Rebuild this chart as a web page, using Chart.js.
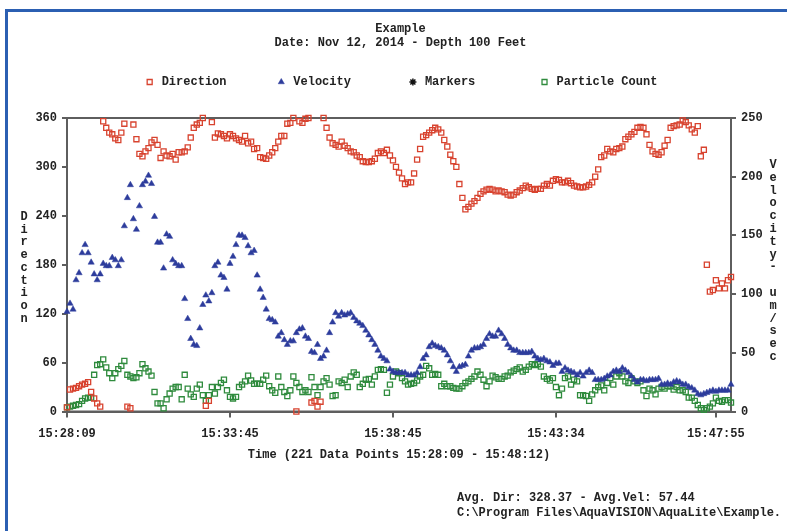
<!DOCTYPE html>
<html>
<head>
<meta charset="utf-8">
<title>Example - AquaLite</title>
<script src="https://cdn.jsdelivr.net/npm/chart.js@4.4.1/dist/chart.umd.min.js"></script>
<style>
  html, body { margin: 0; padding: 0; background: #fff; overflow: hidden; }
  #wrap { position: relative; width: 787px; height: 531px; }
  #frame { position: absolute; left: 5px; top: 9px; width: 800px; height: 540px;
           border-left: 3px solid #2b5fb2; border-top: 3px solid #2b5fb2; }
  canvas { position: absolute; left: 0; top: 0; }
  .note { position: absolute; left: 457px; font: bold 12px "Liberation Mono", monospace;
          color: #222; white-space: nowrap; }
</style>
</head>
<body>
<div id="wrap">
  <div id="frame"></div>
  <canvas id="myChart" width="787" height="531"></canvas>
  <div class="note" style="top:491px">Avg. Dir: 328.37 - Avg.Vel: 57.44</div>
  <div class="note" style="top:506px">C:\Program Files\AquaVISION\AquaLite\Example.</div>
</div>
<script>
// tick positions (sample index) and the time shown under each
const tickIdx = [0, 54, 108, 162, 215];
const tickLabels = ['15:28:09', '15:33:45', '15:38:45', '15:43:34', '15:47:55'];

// direction in degrees, one value per sample (221 samples)
const direction = [
  5, 27, 28, 29, 31, 33, 34, 36, 24, 16, 10, 6,
  356, 348, 342, 340, 335, 333, 342, 353, 6, 4, 352, 334, 316, 313, 319, 323, 330, 333,
  327, 311, 319, 314, 313, 316, 309, 318, 318, 319, 324, 336, 348, 352, 354, 360, 7, 13,
  355, 336, 341, 340, 338,
  335, 340, 338, 335, 333, 331, 338, 329, 331, 322, 323, 312, 311, 310, 314, 318, 323, 331,
  338, 338, 353, 354, 360, 0, 356, 354, 359, 360, 11, 13, 6, 12, 360, 348, 336, 329, 327,
  325, 331, 326, 323, 319, 318, 314, 312, 307, 306, 306, 307, 310, 317, 319, 317, 321, 314,
  308, 300, 293,
  286, 279, 281, 281, 292, 309, 322, 337, 339, 342, 345, 348, 346, 342, 333, 325, 315, 307,
  300, 279, 262, 248, 251, 255, 258, 262, 267, 270, 272, 273, 272, 270, 271, 270, 269, 266,
  265, 266, 269, 271, 274, 277, 275, 273, 272, 273, 273, 277, 279, 277, 283, 285, 284, 281,
  281, 283, 280, 277, 276, 275, 275, 276, 278, 281, 288, 297, 312, 314, 322, 319, 318, 322,
  323, 325, 334, 337, 340, 343, 348, 349, 348, 340, 327, 319, 316, 315, 318, 326, 333, 348,
  350, 351, 352, 357, 355, 351, 346, 342, 350, 313, 321, 180, 147, 149, 161, 151, 157, 151,
  161, 165
];

// velocity in um/sec
const velocity = [
  85, 92, 87, 112, 118, 135, 142, 135, 127, 117, 112, 117, 126, 124, 124, 131, 129, 124,
  129, 158, 182, 193, 164, 155, 175, 193, 196, 201, 194, 166, 144, 144, 122, 151, 149, 129,
  126, 124, 124, 96, 79, 62, 57, 56, 71, 91, 99, 94, 101, 124, 127, 116, 114, 104, 126, 132,
  142, 150, 150, 148, 141, 135, 137, 116, 104, 97, 87, 79, 78, 76, 64, 67, 61, 57, 60, 60,
  67, 70, 71, 64, 62, 51, 50, 57, 45, 47, 52, 67, 76, 84, 81, 84, 82, 83, 84, 80, 77, 75,
  73, 69, 65, 61, 57, 52, 47, 45, 43, 36, 34, 33, 33,
  33, 33, 31, 31, 31, 33, 38, 45, 48, 55, 58, 56, 55, 54, 52, 48, 43, 38, 34, 38, 39, 40,
  47, 52, 54, 54, 55, 57, 62, 66, 64, 64, 69, 66, 62, 57, 54, 52, 52, 50, 50, 50, 50, 51,
  47, 45, 44, 45, 43, 42, 39, 41, 41, 34,
  37, 35, 34, 33, 31, 33, 30, 33, 35, 33, 27, 27, 27, 28, 30, 31, 34, 35, 34, 37, 35, 33,
  30, 27, 25, 27, 27, 26, 27, 27, 27, 28, 23, 23, 24, 23, 25, 26, 25, 23, 23, 21, 20, 18,
  15, 14, 15, 16, 17, 18, 17, 18, 18, 18, 18, 23
];

// particle count
const particles = [
  5, 6, 7, 8, 9, 13, 16, 17, 17, 45, 57, 58, 64, 54, 47, 41, 47, 52, 56, 62, 45, 43, 41, 42,
  47, 58, 53, 49, 44, 24, 10, 10, 4, 15, 22, 28, 30, 30, 15, 45, 28, 21, 18, 28, 33, 20, 13,
  20, 30, 22, 30, 35, 39, 26, 18, 16,
  18, 30, 33, 37, 44, 38, 34, 34, 34, 39, 44, 31, 26, 23, 43, 30, 24, 19, 26, 43, 35, 30,
  24, 26, 24, 42, 30, 20, 30, 37, 41, 33, 19, 20, 37, 35, 39, 30, 43, 48, 45, 30, 34, 39,
  40, 33, 43, 51, 52, 51, 23, 33, 43, 49, 47,
  41, 37, 33, 34, 35, 38, 43, 45, 56, 53, 45, 46, 45, 31, 34, 31, 31, 29, 28, 28, 31, 35,
  37, 40, 43, 49, 45, 39, 31, 37, 44, 42, 40, 40, 43, 44, 48, 50, 52, 54, 49, 51, 55, 58,
  57, 58, 55, 43, 40, 38, 41, 30, 20, 28,
  41, 43, 33, 39, 37, 20, 20, 19, 13, 21, 26, 30, 32, 26, 35, 41, 33, 43, 47, 43, 37, 35,
  41, 37, 35, 37, 26, 19, 28, 26, 21, 28, 30, 28, 31, 31, 27, 30, 26, 26, 24, 17, 17, 13,
  8, 4, 2, 4, 6, 10, 17, 13, 12, 14, 14, 11
];

const toPoints = arr => arr.map((v, i) => ({ x: i, y: v }));

Chart.defaults.font.family = '"Liberation Mono", monospace';
Chart.defaults.font.size = 12;
Chart.defaults.font.weight = 'bold';
Chart.defaults.color = '#222';

// plot frame + stacked letter axis titles
const framePlugin = {
  id: 'frame',
  beforeDatasetsDraw(chart) {
    const { ctx, chartArea: a } = chart;
    ctx.save();
    ctx.strokeStyle = '#5e5e5e';
    ctx.lineWidth = 2;
    ctx.strokeRect(a.left, a.top, a.right - a.left, a.bottom - a.top);
    ctx.restore();
  },
  afterDraw(chart) {
    const ctx = chart.ctx;
    ctx.save();
    ctx.font = 'bold 12px "Liberation Mono", monospace';
    ctx.fillStyle = '#222';
    ctx.textAlign = 'center';
    ctx.textBaseline = 'middle';
    'Direction'.split('').forEach((c, i) => ctx.fillText(c, 24, 217 + i * 12.7));
    'Velocity- um/sec'.split('').forEach((c, i) => ctx.fillText(c, 773, 165 + i * 12.8));
    ctx.restore();
  }
};

const ctx = document.getElementById('myChart').getContext('2d');
new Chart(ctx, {
  type: 'scatter',
  data: {
    datasets: [
      {
        label: 'Direction',
        data: toPoints(direction),
        yAxisID: 'y',
        pointStyle: 'rect',
        pointRadius: 3.6,
        borderColor: '#d8432f',
        backgroundColor: 'rgba(255,255,255,0)',
        borderWidth: 1.3,
        clip: false
      },
      {
        label: 'Velocity',
        data: toPoints(velocity),
        yAxisID: 'y2',
        pointStyle: 'triangle',
        pointRadius: 3.6,
        borderColor: '#2d3c9c',
        backgroundColor: '#2d3c9c',
        borderWidth: 0.5,
        clip: false
      },
      {
        label: 'Markers',
        data: [],
        yAxisID: 'y',
        pointStyle: 'star',
        pointRadius: 3.6,
        borderColor: '#111',
        backgroundColor: '#111',
        borderWidth: 1.5
      },
      {
        label: 'Particle Count',
        data: toPoints(particles),
        yAxisID: 'y',
        pointStyle: 'rect',
        pointRadius: 3.6,
        borderColor: '#2f8b3d',
        backgroundColor: 'rgba(255,255,255,0)',
        borderWidth: 1.3,
        clip: false
      }
    ]
  },
  options: {
    responsive: false,
    animation: false,
    layout: { padding: { left: 14 } },
    plugins: {
      title: {
        display: true,
        text: ['Example', 'Date: Nov 12, 2014 - Depth 100 Feet'],
        font: { size: 12, weight: 'bold', lineHeight: 14 / 12 },
        color: '#222',
        padding: { top: 21.5, bottom: 6.5 }
      },
      legend: {
        position: 'top',
        labels: {
          usePointStyle: true,
          boxWidth: 12,
          boxHeight: 5,
          padding: 20,
          color: '#222',
          font: { size: 12, weight: 'bold' },
          generateLabels(chart) {
            const items = Chart.defaults.plugins.legend.labels.generateLabels(chart);
            items.forEach((it, i) => { if (i < 3) it.text = it.text.padEnd(13); });
            return items;
          }
        }
      },
      tooltip: { enabled: false }
    },
    scales: {
      x: {
        type: 'linear',
        min: 0,
        max: 220,
        afterFit(scale) { scale.height = 119.5; },
        afterBuildTicks(scale) { scale.ticks = tickIdx.map(v => ({ value: v })); },
        ticks: {
          padding: 9,
          maxRotation: 0,
          autoSkip: false,
          callback: v => tickLabels[tickIdx.indexOf(v)]
        },
        grid: { drawOnChartArea: false, tickLength: 6, color: '#5e5e5e', lineWidth: 2 },
        border: { color: '#5e5e5e', width: 2 },
        title: {
          display: true,
          text: 'Time (221 Data Points 15:28:09 - 15:48:12)',
          color: '#222',
          font: { size: 12, weight: 'bold' },
          padding: { top: 0, bottom: 69 }
        }
      },
      // empty top band: gap between legend and plot
      xTop: {
        type: 'linear',
        position: 'top',
        min: 0,
        max: 220,
        afterFit(scale) { scale.height = 20; },
        ticks: { display: false },
        grid: { display: false },
        border: { display: false }
      },
      y: {
        position: 'left',
        min: 0,
        max: 360,
        afterFit(scale) { scale.width = 53; },
        ticks: { stepSize: 60, padding: 5 },
        grid: { drawOnChartArea: false, tickLength: 5, color: '#5e5e5e', lineWidth: 2 },
        border: { color: '#5e5e5e', width: 2 }
      },
      y2: {
        position: 'right',
        min: 0,
        max: 250,
        afterFit(scale) { scale.width = 56; },
        ticks: { stepSize: 50, padding: 5 },
        grid: { drawOnChartArea: false, tickLength: 5, color: '#5e5e5e', lineWidth: 2 },
        border: { color: '#5e5e5e', width: 2 }
      }
    }
  },
  plugins: [framePlugin]
});
</script>
</body>
</html>
